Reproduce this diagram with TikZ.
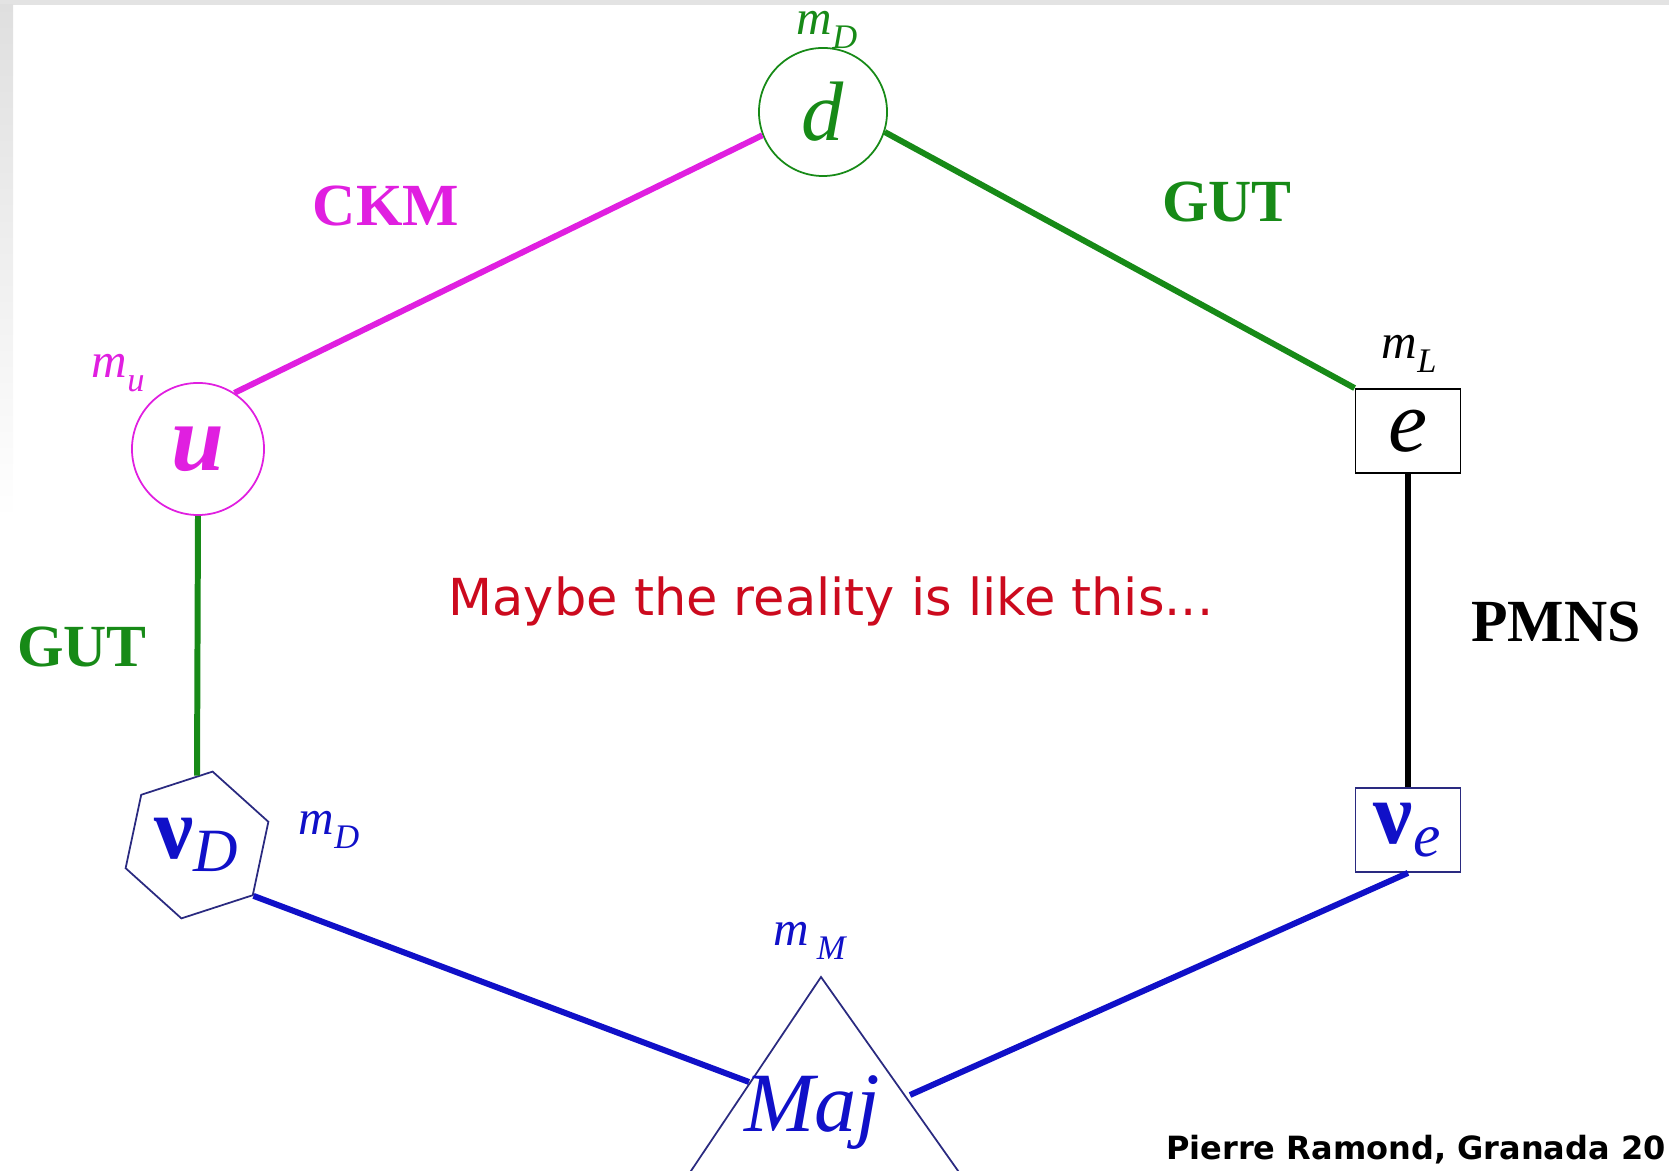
\documentclass[tikz,border=0pt]{standalone}
\usepackage{fontspec}
\setmainfont{Liberation Serif}
\newfontfamily\comicfont{DejaVu Sans}
\usetikzlibrary{shapes.geometric,calc}
\definecolor{mag}{HTML}{E01FE0}
\definecolor{grn}{HTML}{178A17}
\definecolor{blu}{HTML}{1010C8}
\definecolor{nvy}{HTML}{2A2A80}
\definecolor{rd}{HTML}{CC0A1E}
\newcommand{\fsz}[1]{\fontsize{#1}{#1}\selectfont}
\newcommand{\lowsub}[1]{\raisebox{-0.12em}{\textsubscript{\textit{#1}}}}
\newcommand{\mlab}[1]{\textit{m}\lowsub{#1}}
\tikzset{
  ferm/.style={draw=#1,text=#1,line width=0.5pt,inner sep=0pt},
  fermc/.style={ferm=#1,circle},
  fermb/.style={ferm=#1,rectangle,minimum width=1.05cm,minimum height=0.84cm},
  lk/.style={line width=1.7pt},
  mixlbl/.style={font=\fsz{17}\bfseries},
  mlbl/.style={font=\fsz{14}},
}
\begin{document}
\begin{tikzpicture}[x=0.01cm,y=-0.01cm]
\useasboundingbox (0,0) rectangle (1669,1171);
\clip (0,0) rectangle (1669,1171);
% slide edge
\fill[gray!22] (0,0) rectangle (1669,5);
\shade[top color=gray!25,bottom color=white] (0,5) rectangle (13,520);
% quark and lepton nodes
\node[fermc=grn,minimum size=1.28cm,font=\fsz{24}\itshape] (d) at (823,112) {d};
\node[fermc=mag,minimum size=1.32cm,font=\fsz{27}\bfseries\itshape] (u) at (198,449) {u};
\node[fermb=black,font=\fsz{25}\itshape] (e) at (1408,431) {e};
\node[fermb=nvy,text=blu,font=\fsz{25}] (nue) at (1408,830) {\textbf{ν}\textsubscript{\textit{e}}};
\node[ferm=nvy,text=blu,regular polygon,regular polygon sides=6,shape border rotate=18,minimum size=1.5cm,font=\fsz{25}] (nud) at (197,845) {\textbf{ν}\textsubscript{\textit{D}}};
% Majorana triangle
\draw[nvy,line width=0.5pt] (821,977) -- (638,1250) -- (1014,1250) -- cycle;
\node[text=blu,font=\fsz{24}\itshape,anchor=base] (maj) at (812,1132) {Maj};
\coordinate (tl) at (749,1082);
\coordinate (tr) at (910,1095);
% mass labels
\node[mlbl,grn] (mdt) at (828,30) {\mlab{D}};
\node[mlbl,mag] (mu) at (119,373) {\mlab{u}};
\node[mlbl,black] (ml) at (1410,354) {\mlab{L}};
\node[mlbl,blu] (mdb) at (330,830) {\mlab{D}};
\node[mlbl,blu] (mm) at (811,941) {\textit{m}\,\lowsub{M}};
% links
\draw[lk,mag] (d.201) -- (u.57);
\draw[lk,grn] (d.-18) -- (e.north west);
\draw[lk,grn] (u.south) -- (nud.north);
\draw[lk,black] (e.south) -- (nue.north);
\draw[lk,blu] (nud.-42) -- (tl);
\draw[lk,blu] (tr) -- (nue.south);
% mixing labels
\node[mixlbl,mag] (ckm) at (386,206) {CKM};
\node[mixlbl,grn] (gutr) at (1227,202) {GUT};
\node[mixlbl,grn] (gutl) at (82,647) {GUT};
\node[mixlbl,black] (pmns) at (1556,622) {PMNS};
% remarks
\node[font=\comicfont\fsz{14.5},text=rd] (note) at (831,601) {Maybe the reality is like this...};
\node[font=\comicfont\bfseries\fsz{9.1},anchor=base east] (cred) at (1678,1160) {Pierre Ramond, Granada 20};
\end{tikzpicture}
\end{document}
